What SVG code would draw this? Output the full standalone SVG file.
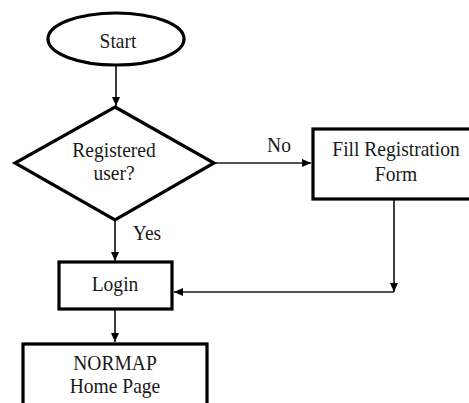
<svg xmlns="http://www.w3.org/2000/svg" width="469" height="403" viewBox="0 0 469 403">
  <style>
    .shape { fill: #ffffff; stroke: #000000; stroke-width: 3.2; }
    .edge { fill: none; stroke: #1a1a1a; stroke-width: 1.7; }
    .lbl { font-family: "Liberation Serif", "Times New Roman", serif; font-size: 21px; fill: #1a1a1a; text-anchor: middle; }
  </style>
  <defs>
    <marker id="arrow" markerWidth="10" markerHeight="10" refX="9" refY="5" orient="auto" markerUnits="userSpaceOnUse">
      <path d="M0,1 L9,5 L0,9 Z" fill="#000000"/>
    </marker>
  </defs>
  <rect width="469" height="403" fill="#ffffff"/>

  <g id="connectors">
    <line class="edge" x1="116" y1="65" x2="116" y2="106" marker-end="url(#arrow)"/>
    <line class="edge" x1="214" y1="163" x2="311" y2="163" marker-end="url(#arrow)"/>
    <line class="edge" x1="115" y1="221" x2="115" y2="261" marker-end="url(#arrow)"/>
    <line class="edge" x1="394" y1="199" x2="394" y2="292" marker-end="url(#arrow)"/>
    <line class="edge" x1="394" y1="292" x2="174" y2="292" marker-end="url(#arrow)"/>
    <line class="edge" x1="115" y1="310" x2="115" y2="342" marker-end="url(#arrow)"/>
    <!-- labels use a slightly condensed serif face -->
    <text class="lbl" transform="translate(279,152) scale(0.93,1)">No</text>
    <text class="lbl" transform="translate(147,240) scale(0.93,1)">Yes</text>
  </g>

  <g id="start">
    <ellipse class="shape" cx="116" cy="39" rx="68" ry="26"/>
    <text class="lbl" transform="translate(118,48) scale(0.93,1)">Start</text>
  </g>

  <g id="registered">
    <polygon class="shape" points="115,107 214,163 115,220 15,163"/>
    <text class="lbl" transform="translate(114,157) scale(0.93,1)">Registered</text>
    <text class="lbl" transform="translate(114,180) scale(0.93,1)">user?</text>
  </g>

  <g id="fill-registration">
    <rect class="shape" x="313" y="129" width="170" height="70"/>
    <text class="lbl" transform="translate(396,156) scale(0.93,1)">Fill Registration</text>
    <text class="lbl" transform="translate(396,181) scale(0.93,1)">Form</text>
  </g>

  <g id="login">
    <rect class="shape" x="59" y="262" width="113" height="47"/>
    <text class="lbl" transform="translate(115,291) scale(0.93,1)">Login</text>
  </g>

  <g id="home-page">
    <rect class="shape" x="23" y="344" width="184" height="70"/>
    <text class="lbl" transform="translate(115,370) scale(0.93,1)">NORMAP</text>
    <text class="lbl" transform="translate(115,393) scale(0.93,1)">Home Page</text>
  </g>
</svg>
